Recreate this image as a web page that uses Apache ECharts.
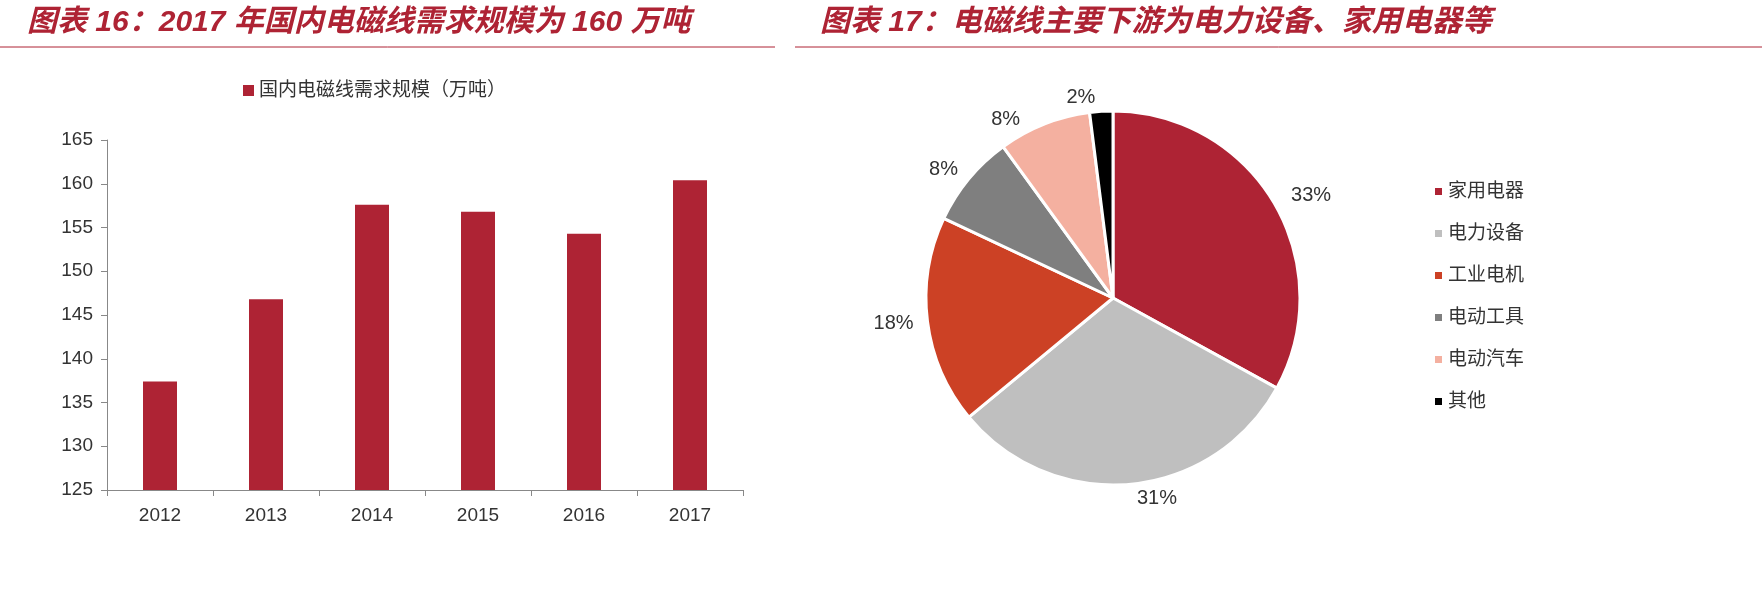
<!DOCTYPE html>
<html><head><meta charset="utf-8">
<script src="https://cdn.jsdelivr.net/npm/echarts@6/dist/echarts.min.js"></script>
<style>body{margin:0;background:#fff}#c{width:1762px;height:610px}</style></head>
<body><div id="c"></div>
<script>
const years=['2012','2013','2014','2015','2016','2017'];
const demand=[137.4,146.8,157.6,156.8,154.3,160.4];
const pieNames=['家用电器','电力设备','工业电机','电动工具','电动汽车','其他'];
const pieValues=[33,31,18,8,8,2];
const pieColors=['#AE2334','#BFBFBF','#CC4125','#7F7F7F','#F4B0A0','#000000'];
const f='"Liberation Sans","Noto Sans CJK SC",sans-serif';
const chart=echarts.init(document.getElementById('c'));
chart.setOption({
 animation:false,
 title:[
  {text:'图表 16：2017 年国内电磁线需求规模为 160 万吨',left:22,top:3,textStyle:{color:'#AE2334',fontSize:30,fontStyle:'italic',fontWeight:'bold',fontFamily:f}},
  {text:'图表 17：电磁线主要下游为电力设备、家用电器等',left:815,top:3,textStyle:{color:'#AE2334',fontSize:30,fontStyle:'italic',fontWeight:'bold',fontFamily:f}}
 ],
 graphic:[
  {type:'line',shape:{x1:0,y1:47,x2:775,y2:47},style:{stroke:'#AE2334',lineWidth:1}},
  {type:'line',shape:{x1:795,y1:47,x2:1762,y2:47},style:{stroke:'#AE2334',lineWidth:1}}
 ],
 legend:[
  {data:['国内电磁线需求规模（万吨）'],left:238,top:76,icon:'rect',itemWidth:11,itemHeight:11,textStyle:{fontSize:19,color:'#333',fontFamily:f}},
  {data:pieNames,orient:'vertical',left:1428,top:177,itemGap:23,icon:'rect',itemWidth:9,itemHeight:9,textStyle:{fontSize:19,color:'#333',fontFamily:f}}
 ],
 grid:{left:107,right:1019,top:140,bottom:120},
 xAxis:{type:'category',data:years,axisTick:{show:true,length:6,lineStyle:{color:'#888'}},axisLine:{lineStyle:{color:'#888'}},axisLabel:{fontSize:19,color:'#333',margin:16,fontFamily:f}},
 yAxis:{type:'value',min:125,max:165,interval:5,splitLine:{show:false},axisLine:{show:true,lineStyle:{color:'#888'}},axisTick:{show:true,length:6,lineStyle:{color:'#888'}},axisLabel:{fontSize:19,color:'#333',margin:14,fontFamily:f}},
 series:[
  {type:'bar',name:'国内电磁线需求规模（万吨）',data:demand,barWidth:34,itemStyle:{color:'#AE2334'}},
  {type:'pie',center:[1113,298],radius:[0,187],startAngle:90,clockwise:true,
   data:pieNames.map((n,i)=>({name:n,value:pieValues[i],itemStyle:{color:pieColors[i]}})),
   itemStyle:{borderColor:'#fff',borderWidth:3},
   label:{show:true,position:'outside',formatter:'{c}%',fontSize:20,color:'#333',fontFamily:f},
   labelLine:{show:false,length:14,length2:0}}
 ]
});
</script></body></html>
